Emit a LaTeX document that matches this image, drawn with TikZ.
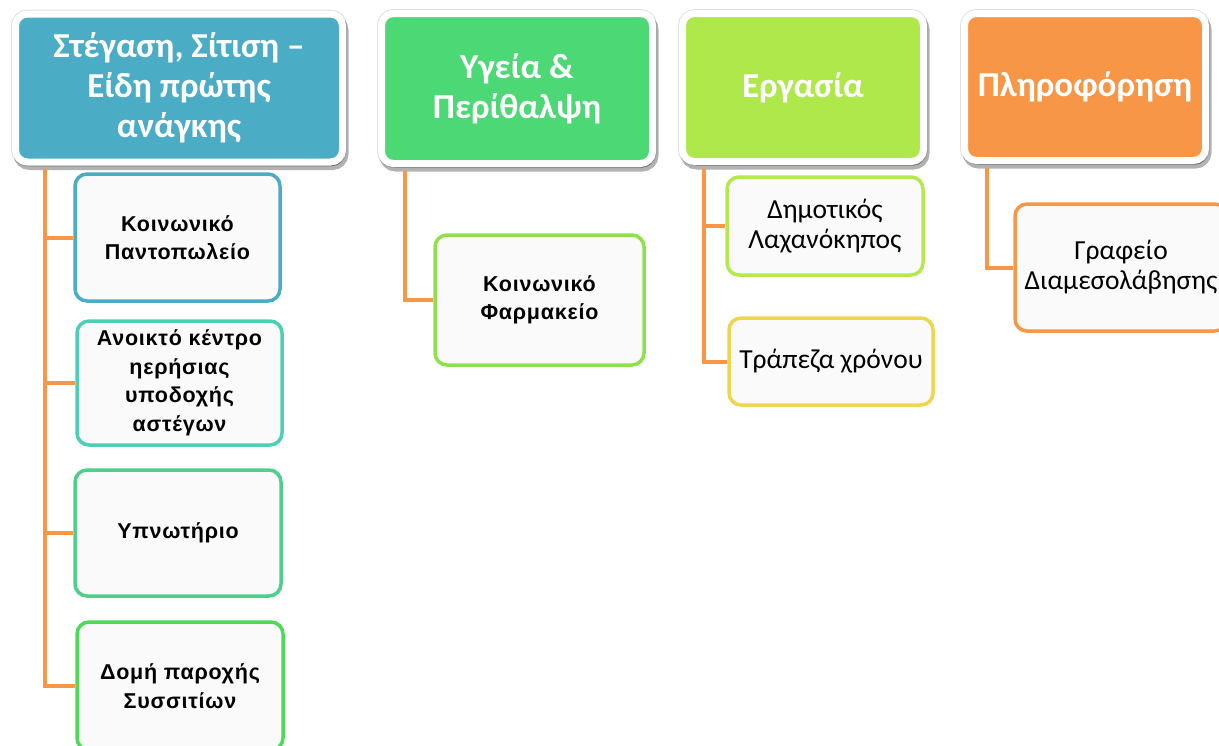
\documentclass[tikz,border=0pt]{standalone}
\usepackage{fontspec}
\setmainfont{Carlito}
\newfontfamily\boldnarrow[LetterSpace=3.5]{Liberation Sans}
\usetikzlibrary{shadows}
\definecolor{hblue}{HTML}{4BACC6}
\definecolor{hgreen}{HTML}{4CD874}
\definecolor{hlime}{HTML}{AEE84A}
\definecolor{horange}{HTML}{F79646}
\definecolor{bturq}{HTML}{4CCFB5}
\definecolor{bgreenA}{HTML}{4CD08C}
\definecolor{bgreenB}{HTML}{4CDB56}
\definecolor{bgreenC}{HTML}{8EE04C}
\definecolor{blime}{HTML}{B4E84C}
\definecolor{byellow}{HTML}{F0D44C}
\definecolor{cfill}{HTML}{FAFAFA}
\tikzset{
  header/.style={draw=white, line width=7pt, rounded corners=12pt, text=white,
    font=\fontsize{35}{40}\selectfont\bfseries, align=center, inner sep=0pt,
    preaction={draw=black!12, line width=9pt},
    drop shadow={shadow xshift=2pt, shadow yshift=-4pt, opacity=0.3, fill=black, draw=black, line width=8pt}},
  child/.style={draw, line width=3.5pt, rounded corners=12pt, fill=cfill,
    align=center, inner sep=0pt, text=black},
  boldtxt/.style={font=\boldnarrow\fontsize{21.5}{28.5}\selectfont\bfseries},
  plaintxt/.style={font=\fontsize{27.5}{30}\selectfont},
  conn/.style={draw=horange, line width=4pt}
}
\begin{document}
\begin{tikzpicture}[x=1pt,y=-1pt]
\useasboundingbox (0,0) rectangle (1219,745);
\clip (0,0) rectangle (1219,745);
% headers
\node[header, fill=hblue, minimum width=327pt, minimum height=148pt] (h1) at (179,88) {Στέγαση, Σίτιση –\\Είδη πρώτης\\ανάγκης};
\node[header, fill=hgreen, minimum width=271pt, minimum height=150pt] (h2) at (517,88.5) {Υγεία \&\\Περίθαλψη};
\node[header, fill=hlime, minimum width=241pt, minimum height=148pt] (h3) at (803,87.5) {Εργασία};
\node[header, fill=horange, minimum width=241pt, minimum height=147pt] (h4) at (1085,87) {Πληροφόρηση};
% children col 1
\node[child, boldtxt, draw=hblue, minimum width=205pt, minimum height=127pt] (c1a) at (177.5,237.5) {Κοινωνικό\\Παντοπωλείο};
\node[child, boldtxt, draw=bturq, minimum width=205pt, minimum height=124pt] (c1b) at (179.5,383) {Ανοικτό κέντρο\\ηερήσιας\\υποδοχής\\αστέγων};
\node[child, boldtxt, draw=bgreenA, minimum width=206pt, minimum height=126pt] (c1c) at (178,533) {Υπνωτήριο};
\node[child, boldtxt, draw=bgreenB, minimum width=206pt, minimum height=128pt] (c1d) at (180,686) {Δομή παροχής\\Συσσιτίων};
% col 2
\node[child, boldtxt, draw=bgreenC, minimum width=209pt, minimum height=130pt] (c2) at (539.5,300) {Κοινωνικό\\Φαρμακείο};
% col 3
\node[child, plaintxt, draw=blime, minimum width=196pt, minimum height=98pt] (c3a) at (825,226) {Δημοτικός\\Λαχανόκηπος};
\node[child, plaintxt, draw=byellow, minimum width=204pt, minimum height=87pt] (c3b) at (831,361.5) {Τράπεζα χρόνου};
% col 4
\node[child, plaintxt, draw=horange, minimum width=212pt, minimum height=127pt] (c4) at (1121,267.5) {Γραφείο\\Διαμεσολάβησης};
% connectors
\coordinate (t1) at ([xshift=32.5pt,yshift=-3.5pt]h1.south west);
\coordinate (t2) at ([xshift=26.5pt,yshift=-3.5pt]h2.south west);
\coordinate (t3) at ([xshift=24.5pt,yshift=-3.5pt]h3.south west);
\coordinate (t4) at ([xshift=25.5pt,yshift=-3.5pt]h4.south west);
\draw[conn] (t1) |- (c1a.west);
\draw[conn] (t1) |- (c1b.west);
\draw[conn] (t1) |- (c1c.west);
\draw[conn] (t1) |- (c1d.west);
\draw[conn] (t2) |- (c2.west);
\draw[conn] (t3) |- (c3a.west);
\draw[conn] (t3) |- (c3b.west);
\draw[conn] (t4) |- (c4.west);
\end{tikzpicture}
\end{document}
